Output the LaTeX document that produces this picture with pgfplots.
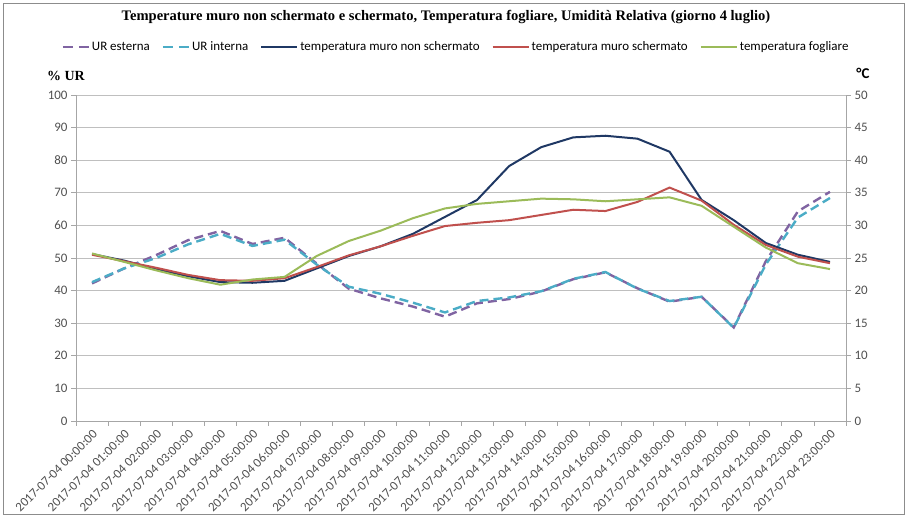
\documentclass[border=0pt]{standalone}
\usepackage{fontspec}
\setmainfont{Carlito}
\newfontfamily\titlefont{Liberation Serif}
\usepackage{pgfplots}
\pgfplotsset{compat=1.18}
\usepackage{pgfplotstable}
\definecolor{urest}{HTML}{8064A2}
\definecolor{urint}{HTML}{4BACC6}
\definecolor{navyc}{HTML}{1F3864}
\definecolor{redc}{HTML}{C0504D}
\definecolor{greenc}{HTML}{9BBB59}
\definecolor{gridgray}{HTML}{BFBFBF}
\definecolor{axisgray}{HTML}{A6A6A6}
\definecolor{framegray}{HTML}{8C8C8C}
\definecolor{textgray}{HTML}{505050}

\pgfplotstableread{
x ue ui
0 42.2 42.6
1 46.8 46.8
2 50.9 50.0
3 55.5 54.2
4 58.3 57.4
5 54.3 53.7
6 56.2 55.6
7 48.3 48.0
8 40.6 41.2
9 37.6 39.0
10 35.1 36.3
11 32.0 33.3
12 36.1 36.8
13 37.4 37.9
14 39.7 39.8
15 43.5 43.6
16 45.6 45.7
17 40.7 40.6
18 36.6 36.8
19 38.1 38.1
20 28.7 28.6
21 49.0 48.0
22 64.3 62.4
23 70.3 68.4
}\urdata

\pgfplotstableread{
x ns s f
0 25.6 25.5 25.7
1 24.6 24.5 24.4
2 23.3 23.5 23.1
3 22.2 22.4 21.9
4 21.3 21.6 20.9
5 21.2 21.5 21.7
6 21.5 21.9 22.1
7 23.4 23.6 25.3
8 25.3 25.4 27.6
9 26.8 26.8 29.2
10 28.7 28.4 31.1
11 31.3 29.9 32.6
12 33.9 30.4 33.3
13 39.1 30.8 33.7
14 42.0 31.6 34.1
15 43.5 32.4 34.0
16 43.75 32.2 33.7
17 43.3 33.6 34.0
18 41.3 35.8 34.3
19 33.9 33.8 33.0
20 30.8 30.1 29.8
21 27.3 27.0 26.6
22 25.5 25.2 24.2
23 24.4 24.2 23.3
}\tdata

\pgfplotsset{
  common/.style={
    at={(76bp,98bp)}, anchor=south west,
    width=770bp, height=326bp, scale only axis,
    xmin=-0.5, xmax=23.5,
    axis line style={axisgray, line width=0.8bp},
    tick style={axisgray, line width=0.8bp},
    tick align=outside,
    major tick length=5bp,
    /pgf/number format/assume math mode=true,
    yticklabel style={font=\fontsize{13}{14}\selectfont, text=textgray},
  },
}

\begin{document}
\begin{tikzpicture}[x=1bp,y=1bp]
\useasboundingbox (0,0) rectangle (907,519);
\draw[framegray, line width=1bp] (3.5,4.5) rectangle (904,515);
\node[font=\titlefont\bfseries\fontsize{14.6}{15}\selectfont] at (446,502) {Temperature muro non schermato e schermato, Temperatura fogliare, Umidità Relativa (giorno 4 luglio)};
\node[font=\titlefont\bfseries\fontsize{14}{15}\selectfont] at (66,443) {\% UR};
\node[font=\bfseries\fontsize{15}{16}\selectfont] at (863,446) {°C};

\begin{axis}[common,
  ymin=0, ymax=100, ytick={0,10,...,100},
  ymajorgrids, grid style={gridgray, line width=0.8bp},
  axis x line*=bottom, axis y line*=left,
  xtick={0,...,23},
  major x tick style={draw=none},
  minor xtick={-0.5,0.5,...,23.5},
  minor tick length=5bp,
  minor x tick style={axisgray, line width=0.8bp},
  xticklabels={\mbox{2017-07-04 00:00:00},\mbox{2017-07-04 01:00:00},\mbox{2017-07-04 02:00:00},\mbox{2017-07-04 03:00:00},\mbox{2017-07-04 04:00:00},\mbox{2017-07-04 05:00:00},\mbox{2017-07-04 06:00:00},\mbox{2017-07-04 07:00:00},\mbox{2017-07-04 08:00:00},\mbox{2017-07-04 09:00:00},\mbox{2017-07-04 10:00:00},\mbox{2017-07-04 11:00:00},\mbox{2017-07-04 12:00:00},\mbox{2017-07-04 13:00:00},\mbox{2017-07-04 14:00:00},\mbox{2017-07-04 15:00:00},\mbox{2017-07-04 16:00:00},\mbox{2017-07-04 17:00:00},\mbox{2017-07-04 18:00:00},\mbox{2017-07-04 19:00:00},\mbox{2017-07-04 20:00:00},\mbox{2017-07-04 21:00:00},\mbox{2017-07-04 22:00:00},\mbox{2017-07-04 23:00:00}},
  xticklabel style={rotate=45, anchor=north east, font=\fontsize{13}{13}\selectfont, text=textgray, inner sep=2bp},
]
\addplot[urest, line width=2.4bp, dash pattern=on 9bp off 5bp] table[x=x,y=ue] {\urdata};
\addplot[urint, line width=2.4bp, dash pattern=on 9bp off 5bp] table[x=x,y=ui] {\urdata};
\end{axis}

\begin{axis}[common,
  ymin=0, ymax=50, ytick={0,5,...,50},
  axis y line*=right, axis x line=none,
  legend columns=5,
  legend style={draw=none, fill=none, at={(0.4935,1.147)}, anchor=center,
    font=\fontsize{13}{14}\selectfont, text=black,
    /tikz/every even column/.append style={column sep=10bp},
    /tikz/every odd column/.append style={column sep=0bp},
    nodes={inner xsep=2bp}},
  legend image code/.code={\draw[#1] (0bp,0bp) -- (36bp,0bp);},
]
\addlegendimage{legend image code/.code={\draw[urest, line width=2.4bp, dash pattern=on 10bp off 6bp] (6bp,0bp) -- (32bp,0bp);}}
\addlegendentry{UR esterna}
\addlegendimage{legend image code/.code={\draw[urint, line width=2.4bp, dash pattern=on 10bp off 6bp] (6bp,0bp) -- (32bp,0bp);}}
\addlegendentry{UR interna}
\addplot[navyc, line width=2bp] table[x=x,y=ns] {\tdata};
\addlegendentry{temperatura muro non schermato}
\addplot[redc, line width=2bp] table[x=x,y=s] {\tdata};
\addlegendentry{temperatura muro schermato}
\addplot[greenc, line width=2bp] table[x=x,y=f] {\tdata};
\addlegendentry{temperatura fogliare}
\end{axis}
\end{tikzpicture}
\end{document}
